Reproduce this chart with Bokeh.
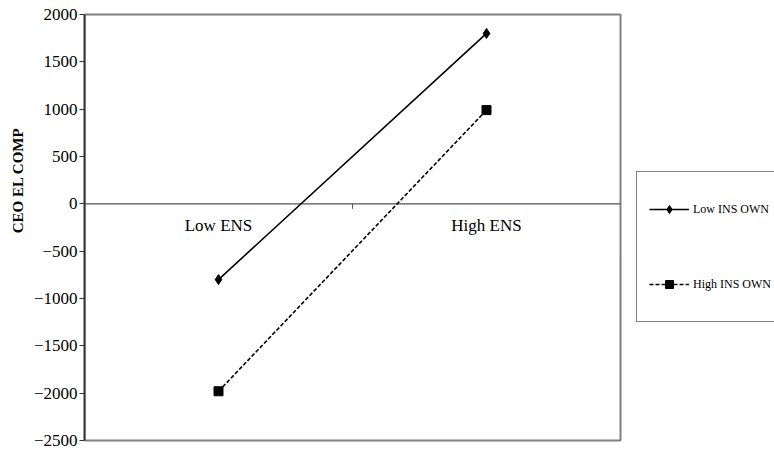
from bokeh.plotting import figure
from bokeh.models import (Range1d, FixedTicker, Legend, LegendItem, Title)
from bokeh.core.properties import value
from bokeh.embed import file_html
from bokeh.resources import INLINE

# ---- data ----
categories = ["Low ENS", "High ENS"]
low_ins_own = [-800, 1800]
high_ins_own = [-1980, 990]
y_ticks = [-2500, -2000, -1500, -1000, -500, 0, 500, 1000, 1500, 2000]
series_names = ["Low INS OWN", "High INS OWN"]
y_title = "CEO EL COMP"

# ---- layout ----
W, H = 774, 450
left_border = 84
frame_w = W - left_border
cat_px = 268.0                       # px per category slot
ymin, ymax = min(y_ticks), max(y_ticks)
top_px, bottom_px = 14, 440          # px of ymax / ymin
ppu = (bottom_px - top_px) / (ymax - ymin)
y_hi = ymax + top_px / ppu
y_lo = ymin - (H - bottom_px) / ppu

cat_x = [i + 0.5 for i in range(len(categories))]
n_cat = len(categories)

FONT = "Liberation Serif"

p = figure(width=W, height=H, output_backend="svg", toolbar_location=None,
           x_range=Range1d(0, frame_w / cat_px), y_range=Range1d(y_lo, y_hi),
           x_axis_location=None,
           min_border_left=left_border, min_border_right=0,
           min_border_top=0, min_border_bottom=0)
p.outline_line_color = None
p.xgrid.visible = False
p.ygrid.visible = False
p.background_fill_color = "white"
p.border_fill_color = "white"

# y axis
ya = p.yaxis[0]
ya.ticker = FixedTicker(ticks=y_ticks)
ya.bounds = (ymin, ymax)
ya.major_label_overrides = {t: ("\u2212" + str(abs(t))) for t in y_ticks if t < 0}
ya.minor_tick_line_color = None
ya.major_tick_in = 0
ya.major_tick_out = 5
ya.major_label_standoff = 2
ya.axis_line_color = "#333333"
ya.axis_line_width = 2
ya.major_tick_line_color = "#333333"
ya.major_label_text_font = FONT
ya.major_label_text_font_size = "17px"
ya.major_label_text_color = "black"

# y title
t = Title(text=y_title, align="right", offset=127, standoff=9,
          text_font=FONT, text_font_size="15px", text_font_style="bold",
          text_color="black")
p.add_layout(t, "left")

# plot area border
p.quad(left=[0], right=[n_cat], bottom=[ymin], top=[ymax],
       fill_color=None, line_color="#808080", line_width=2)

# category axis at zero
p.segment(x0=[0], y0=[0], x1=[n_cat], y1=[0], line_color="#555555", line_width=1.3)
p.segment(x0=[1], y0=[0], x1=[1], y1=[-5 / ppu], line_color="#555555", line_width=1)
p.text(x=cat_x, y=[0] * n_cat, text=categories, text_font=value(FONT),
       text_font_size="17px", text_align="center", text_baseline="middle",
       y_offset=22, text_color="black")

# series
l1 = p.line(cat_x, low_ins_own, line_color="black", line_width=1.6)
s1 = p.scatter(cat_x, low_ins_own, marker="diamond", size=10, color="black")
l2 = p.line(cat_x, high_ins_own, line_color="black", line_width=1.6, line_dash="4 2")
s2 = p.scatter(cat_x, high_ins_own, marker="square", size=9, color="black")

legend = Legend(items=[LegendItem(label=series_names[0], renderers=[l1, s1]),
                       LegendItem(label=series_names[1], renderers=[l2, s2])],
                location=(636 - left_border, H - 322), orientation="vertical",
                padding=12, spacing=25, margin=0,
                glyph_width=40, glyph_height=20, label_height=50,
                label_standoff=4, label_text_font=FONT,
                label_text_font_size="12px", label_text_color="black",
                border_line_color="black", border_line_width=1,
                background_fill_color="white", background_fill_alpha=1)
p.add_layout(legend)

open("out.html", "w").write(file_html(p, INLINE))
